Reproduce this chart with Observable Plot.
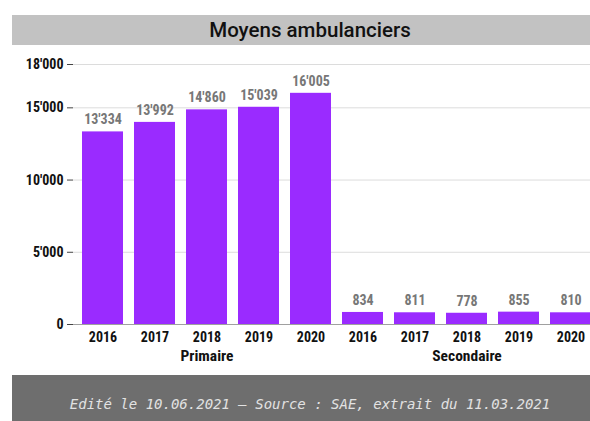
<!DOCTYPE html>
<html>
<head>
<meta charset="utf-8">
<script src="https://cdn.jsdelivr.net/npm/d3@7"></script>
<script src="https://cdn.jsdelivr.net/npm/@observablehq/plot@0.6"></script>
<style>
  html, body { margin: 0; padding: 0; background: #fff; overflow: hidden; width: 590px; height: 421px; }
  #wrap { position: relative; width: 590px; height: 421px; overflow: hidden; }
  #title { position: absolute; left: 12px; top: 15px; width: 596px; height: 30px; background: #c2c2c2;
           font-family: Roboto, "Liberation Sans", sans-serif; font-weight: 500; font-size: 20.5px; color: #111;
           text-align: center; line-height: 30px; }
  #chart { position: absolute; left: 0; top: 50px; width: 600px; }
  #chart svg { max-width: none !important; }
  #footer { position: absolute; left: 12px; top: 375px; width: 596px; height: 46px; background: #6e6e6e;
            font-family: "DejaVu Sans Mono", monospace; font-style: italic; font-size: 14px; color: #e2e2e2;
            text-align: center; line-height: 58px; overflow: hidden; }
</style>
</head>
<body>
<div id="wrap">
  <div id="title">Moyens ambulanciers</div>
  <div id="chart"></div>
  <div id="footer">Edité le 10.06.2021 – Source : SAE, extrait du 11.03.2021</div>
</div>
<script>
const groups = ["Primaire", "Secondaire"];
const years = ["2016", "2017", "2018", "2019", "2020"];
const primaire = [13334, 13992, 14860, 15039, 16005];
const secondaire = [834, 811, 778, 855, 810];
const yTicks = [0, 5000, 10000, 15000, 18000];

const seriesValues = [primaire, secondaire];
const data = [];
groups.forEach((g, gi) => years.forEach((yr, i) => data.push({group: g, year: yr, key: g + " " + yr, value: seriesValues[gi][i]})));
const keys = data.map(d => d.key);
const groupLabels = groups.map(g => ({group: g, key: g + " " + years[2]}));

const fmt = d3.formatLocale({decimal: ".", thousands: "'", grouping: [3], currency: ["", ""]}).format(",");
const condensed = '"Roboto Condensed", "Liberation Sans Narrow", sans-serif';

const chart = Plot.plot({
  width: 600,
  height: 324,
  marginLeft: 73,
  marginRight: 0,
  marginTop: 14,
  marginBottom: 50,
  style: {fontFamily: condensed, overflow: "visible", background: "transparent", maxWidth: "none"},
  x: {domain: keys, paddingInner: 0.22, paddingOuter: 0.134, axis: null},
  y: {domain: [0, 18000], axis: null},
  marks: [
    Plot.gridY(yTicks.filter(d => d > 0), {stroke: "#dcdcdc", strokeOpacity: 1}),
    Plot.ruleY([0], {stroke: "#a0a0a0"}),
    Plot.axisY(yTicks, {tickFormat: fmt, tickSize: 6, tickPadding: 4, fontWeight: "bold", fontSize: 14, fill: "#111", stroke: "#444", label: null}),
    Plot.barY(data, {x: "key", y: "value", fill: "#9a2bff"}),
    Plot.text(data, {x: "key", y: "value", text: d => fmt(d.value), dy: -12, fill: "#777", fontWeight: "bold", fontSize: 14}),
    Plot.text(data, {x: "key", y: 0, text: "year", dy: 13, fill: "#111", fontWeight: "bold", fontSize: 14}),
    Plot.text(groupLabels, {x: "key", y: 0, text: "group", dy: 32, fill: "#111", fontWeight: "bold", fontSize: 15.5})
  ]
});
document.getElementById("chart").appendChild(chart);
</script>
</body>
</html>
